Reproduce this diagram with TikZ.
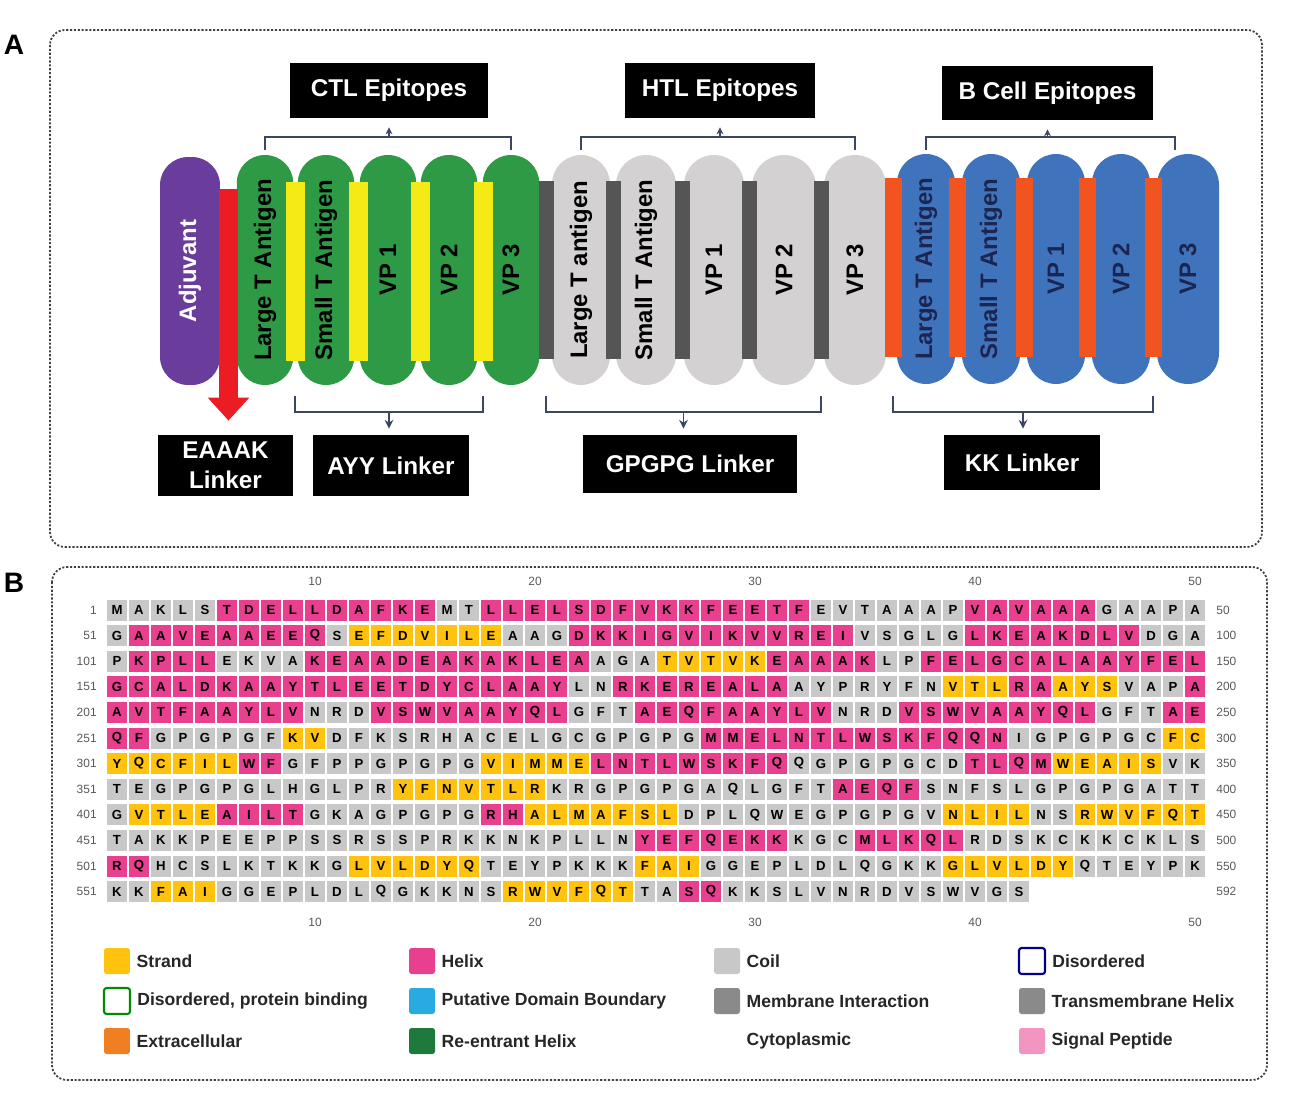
\documentclass[tikz,border=0pt]{standalone}
\usepackage{fontspec}
\setmainfont{Liberation Sans}
\usetikzlibrary{positioning,calc,arrows.meta}

\definecolor{ctlgreen}{HTML}{2F9A45}
\definecolor{htlgray}{HTML}{D3D1D2}
\definecolor{bcblue}{HTML}{3F74BD}
\definecolor{adjpurple}{HTML}{6A3C9C}
\definecolor{ayyyellow}{HTML}{F4EA16}
\definecolor{gpgdark}{HTML}{555555}
\definecolor{kkorange}{HTML}{F1541E}
\definecolor{eaared}{HTML}{EC1C24}
\definecolor{brkc}{HTML}{3B4663}
\definecolor{bluetxt}{HTML}{1B2550}
% secondary structure
\definecolor{cl}{HTML}{C8C8C8}
\definecolor{hx}{HTML}{E8408E}
\definecolor{st}{HTML}{FFC20E}
% legend only
\definecolor{extra}{HTML}{F07F22}
\definecolor{domb}{HTML}{29ABE2}
\definecolor{reent}{HTML}{1D7A3C}
\definecolor{memb}{HTML}{8A8A8A}

\tikzset{
  caps/.style={rectangle, rounded corners=0.56cm, minimum width=4.6cm,
    inner sep=0pt, rotate=90, font=\bfseries\fontsize{13.6}{15}\selectfont},
  lnk/.style={rectangle, inner sep=0pt, minimum height=3.58cm},
  lbl/.style={rectangle, fill=black, text=white, inner sep=0pt,
    font=\bfseries\fontsize{13.8}{17}\selectfont, align=center},
  brk/.style={draw=brkc, line width=1.1pt},
  frame/.style={draw=black!75, line width=1pt, dash pattern=on 1.2pt off 1pt,
    rounded corners=0.3cm},
  res/.style={rectangle, inner sep=0pt, minimum width=0.4cm, minimum height=0.42cm,
    font=\bfseries\fontsize{7.5}{8}\selectfont},
  num/.style={inner sep=0pt, text=black!65, font=\fontsize{6.8}{8}\selectfont},
  sw/.style={rectangle, inner sep=0pt, minimum size=0.52cm, rounded corners=1.5pt},
  lgt/.style={inner sep=0pt, text=black!85, font=\bfseries\fontsize{10}{12}\selectfont},
  panel/.style={font=\bfseries\fontsize{16}{16}\selectfont}
}

% one row of residues, coloured by runs
\makeatletter
\newcount\rescol
\newcount\resnum
\newcommand\resrow[2]{\global\rescol=0
  \foreach \clr/\run in {#2}{\resrun{\clr}{\run}{#1}}}
\newcommand\resrun[3]{\def\resclr{#1}\def\resy{#3}%
  \expandafter\res@loop\expandafter{#2}}
\newcommand\res@loop[1]{\@tfor\resch:=#1\do{%
  \global\advance\rescol by 1
  \global\advance\resnum by 1
  \node[res, fill=\resclr] (aa\the\resnum) at ({95+22*\the\rescol},{610+25.6*\resy}) {\resch};}}
\makeatother

\begin{document}
\begin{tikzpicture}[x=0.02cm, y=-0.02cm]
\useasboundingbox (0,0) rectangle (1299,1105);

% panel A
\draw[frame] (50,30) rectangle (1262,547);
\node[panel] (pa) at (14,45) {A};

\node[caps, fill=adjpurple, text=white, minimum height=1.2cm, minimum width=4.56cm] (adj) at (190,271) {Adjuvant};

% CTL part
\foreach \nm/\xx/\tx in {g1/265/Large T Antigen, g2/326/Small T Antigen, g3/388/VP 1, g4/449/VP 2, g5/511/VP 3}
  \node[caps, fill=ctlgreen, minimum height=1.13cm] (\nm) at (\xx,270) {\tx};
% HTL part
\foreach \nm/\xx/\ww/\tx in {h1/581/58/Large T antigen, h2/646/60/Small T Antigen, h3/714/60/VP 1, h4/784/64/VP 2, h5/855/62/VP 3}
  \node[caps, fill=htlgray, minimum height=\ww*0.02cm, rounded corners=\ww*0.01cm] (\nm) at (\xx,270) {\tx};
% B cell part
\foreach \nm/\xx/\ww/\tx in {b1/926/58/Large T Antigen, b2/991/58/Small T Antigen, b3/1056/58/VP 1, b4/1121/58/VP 2, b5/1188/62/VP 3}
  \node[caps, fill=bcblue, text=bluetxt, minimum height=\ww*0.02cm, rounded corners=\ww*0.01cm] (\nm) at (\xx,269) {\tx};

% linkers
\foreach \nm/\xx in {y1/295, y2/358, y3/420, y4/483}
  \node[lnk, fill=ayyyellow, minimum width=0.38cm] (\nm) at (\xx,271.5) {};
\foreach \nm/\xx in {d1/546, d2/613, d3/682, d4/749, d5/821}
  \node[lnk, fill=gpgdark, minimum width=0.3cm] (\nm) at (\xx,270) {};
\foreach \nm/\xx in {o1/893, o2/957, o3/1024, o4/1087, o5/1153}
  \node[lnk, fill=kkorange, minimum width=0.34cm] (\nm) at (\xx,267.5) {};

% boxes
\node[lbl, minimum width=3.96cm, minimum height=1.1cm] (ctl) at (389,90.5) {CTL Epitopes};
\node[lbl, minimum width=3.8cm, minimum height=1.1cm] (htl) at (720,90.5) {HTL Epitopes};
\node[lbl, minimum width=4.22cm, minimum height=1.08cm] (bce) at (1047.5,93) {B Cell Epitopes};
\node[lbl, minimum width=2.7cm, minimum height=1.22cm] (eaak) at (225.5,465.5) {EAAAK\\Linker};
\node[lbl, minimum width=3.12cm, minimum height=1.22cm] (ayy) at (391,465.5) {AYY Linker};
\node[lbl, minimum width=4.28cm, minimum height=1.16cm] (gpg) at (690,464) {GPGPG Linker};
\node[lbl, minimum width=3.12cm, minimum height=1.1cm] (kkl) at (1022,462.5) {KK Linker};

% EAAAK arrow
\coordinate (redtop) at (228.5,189);
\draw[eaared, line width=0.38cm, -{Triangle[width=0.8cm,length=0.46cm]}] (redtop) -- ($(redtop |- eaak.north)+(0,-14)$);

% upper brackets
\coordinate (bend) at ($(b5)+(-13,0)$);
\draw[brk] (g1 |- 0,150) -- (g1 |- 0,137) -- (g5 |- 0,137) -- (g5 |- 0,150);
\draw[brk, -{Stealth[length=4pt,width=4pt]}] (ctl |- 0,137) -- ($(ctl.south)+(0,9)$);
\draw[brk] (h1 |- 0,150) -- (h1 |- 0,137) -- (h5 |- 0,137) -- (h5 |- 0,150);
\draw[brk, -{Stealth[length=4pt,width=4pt]}] (htl |- 0,137) -- ($(htl.south)+(0,9)$);
\draw[brk] (b1 |- 0,150) -- (b1 |- 0,137) -- (bend |- 0,137) -- (bend |- 0,150);
\draw[brk, -{Stealth[length=4pt,width=4pt]}] (bce |- 0,137) -- ($(bce.south)+(0,9)$);

% lower brackets
\coordinate (ayym) at ($(y1)!0.5!(y4)$);
\coordinate (gpgm) at ($(d1)!0.5!(d5)$);
\coordinate (kkm) at ($(o1)!0.5!(o5)$);
\draw[brk] (y1 |- 0,396) -- (y1 |- 0,412) -- (y4 |- 0,412) -- (y4 |- 0,396);
\draw[brk, -{Stealth[length=5pt,width=5pt]}] (ayym |- 0,412) -- ($(ayym |- ayy.north)+(0,-6)$);
\draw[brk] (d1 |- 0,396) -- (d1 |- 0,412) -- (d5 |- 0,412) -- (d5 |- 0,396);
\draw[brk, -{Stealth[length=5pt,width=5pt]}] (gpgm |- 0,412) -- ($(gpgm |- gpg.north)+(0,-6)$);
\draw[brk] (o1 |- 0,396) -- (o1 |- 0,412) -- (o5 |- 0,412) -- (o5 |- 0,396);
\draw[brk, -{Stealth[length=5pt,width=5pt]}] (kkm |- 0,412) -- ($(kkm |- kkl.north)+(0,-6)$);

% panel B
\draw[frame] (52,567) rectangle (1267,1080);
\node[panel] (pb) at (14,583) {B};

\resrow{0}{cl/MAKLS,hx/TDELLDAFKE,cl/MT,hx/LLELSDFVKKFEETF,cl/EVTAAAP,hx/VAVAAA,cl/GAAPA}
\resrow{1}{cl/G,hx/AAVEAAEEQ,cl/S,st/EFDVILE,cl/AAG,hx/DKKIGVIKVVREI,cl/VSGLG,hx/LKEAKDLV,cl/DGA}
\resrow{2}{cl/P,hx/KPLL,cl/EKVA,hx/KEAADEAKAKLEA,cl/AGA,st/TVTVK,hx/EAAAK,cl/LP,hx/FELGCALAAYFEL}
\resrow{3}{hx/GCALDKAAYTLEETDYCLAAY,cl/LN,hx/RKEREALA,cl/AYPRYFN,st/VTL,hx/RA,st/AYS,cl/VAP,hx/A}
\resrow{4}{hx/AVTFAAYLV,cl/NRD,hx/VSWVAAYQL,cl/GFT,hx/AEQFAAYLV,cl/NRD,hx/VSWVAAYQL,cl/GFT,hx/AE}
\resrow{5}{hx/QF,cl/GPGPGF,st/KV,cl/DFKSRHACELGCGPGPG,hx/MMELNTLWSKFQQN,cl/IGPGPGC,st/FC}
\resrow{6}{st/YQCFIL,hx/WF,cl/GFPPGPGPG,st/VIMME,hx/LNTLWSKFQ,cl/QGPGPGCD,hx/TLQM,st/WEAIS,cl/VK}
\resrow{7}{cl/TEGPGPGLHGLPR,st/YFNVTLR,cl/KRGPGPGAQLGFT,hx/AEQF,cl/SNFSLGPGPGATT}
\resrow{8}{cl/G,st/VTLE,hx/AILT,cl/GKAGPGPG,hx/RH,st/ALMAFSL,cl/DPLQWEGPGPGV,st/NLIL,cl/NS,st/RWVFQT}
\resrow{9}{cl/TAKKPEEPPSSRSSPRKKNKPLLN,hx/YEFQEKK,cl/KGC,hx/MLKQL,cl/RDSKCKKCKLS}
\resrow{10}{hx/RQ,cl/HCSLKTKKG,st/LVLDYQ,cl/TEYPKKK,st/FAI,cl/GGEPLDLQGKK,st/GLVLDY,cl/QTEYPK}
\resrow{11}{cl/KK,st/FAI,cl/GGEPLDLQGKKNS,st/RWVFQT,cl/TA,hx/SQ,cl/KKSLVNRDVSWVGS}

% numbering
\foreach \r/\lft/\rgt in {0/1/50, 1/51/100, 2/101/150, 3/151/200, 4/201/250, 5/251/300,
    6/301/350, 7/351/400, 8/401/450, 9/451/500, 10/501/550, 11/551/592} {
  \node[num, anchor=east] (rl\r) at (97,{610+25.6*\r}) {\lft};
  \node[num, anchor=west] (rr\r) at (1216,{610+25.6*\r}) {\rgt};
}
\foreach \k in {10,20,30,40,50} {
  \node[num] (ct\k) at ({95+22*\k},581) {\k};
  \node[num] (cb\k) at ({95+22*\k},922) {\k};
}

% legend
\node[sw, fill=st] (lg1) at (117,961) {};
\node[lgt, right=0.12cm of lg1] (lt1) {Strand};
\node[sw, draw=green!55!black, line width=1.2pt, fill=white] (lg2) at (117,1001) {};
\node[lgt, right=0.12cm of lg2] (lt2) {Disordered, protein binding};
\node[sw, fill=extra] (lg3) at (117,1041) {};
\node[lgt, right=0.12cm of lg3] (lt3) {Extracellular};
\node[sw, fill=hx] (lg4) at (422,961) {};
\node[lgt, right=0.12cm of lg4] (lt4) {Helix};
\node[sw, fill=domb] (lg5) at (422,1001) {};
\node[lgt, right=0.12cm of lg5] (lt5) {Putative Domain Boundary};
\node[sw, fill=reent] (lg6) at (422,1041) {};
\node[lgt, right=0.12cm of lg6] (lt6) {Re-entrant Helix};
\node[sw, fill=cl] (lg7) at (727,961) {};
\node[lgt, right=0.12cm of lg7] (lt7) {Coil};
\node[sw, fill=memb] (lg8) at (727,1001) {};
\node[lgt, right=0.12cm of lg8] (lt8) {Membrane Interaction};
\node[sw, fill=white] (lg9) at (727,1041) {};
\node[lgt, right=0.12cm of lg9] (lt9) {Cytoplasmic};
\node[sw, draw=blue!55!black, line width=1.2pt, fill=white] (lg10) at (1032,961) {};
\node[lgt, right=0.12cm of lg10] (lt10) {Disordered};
\node[sw, fill=memb] (lg11) at (1032,1001) {};
\node[lgt, right=0.12cm of lg11] (lt11) {Transmembrane Helix};
\node[sw, fill=hx!55] (lg12) at (1032,1041) {};
\node[lgt, right=0.12cm of lg12] (lt12) {Signal Peptide};

\end{tikzpicture}
\end{document}
